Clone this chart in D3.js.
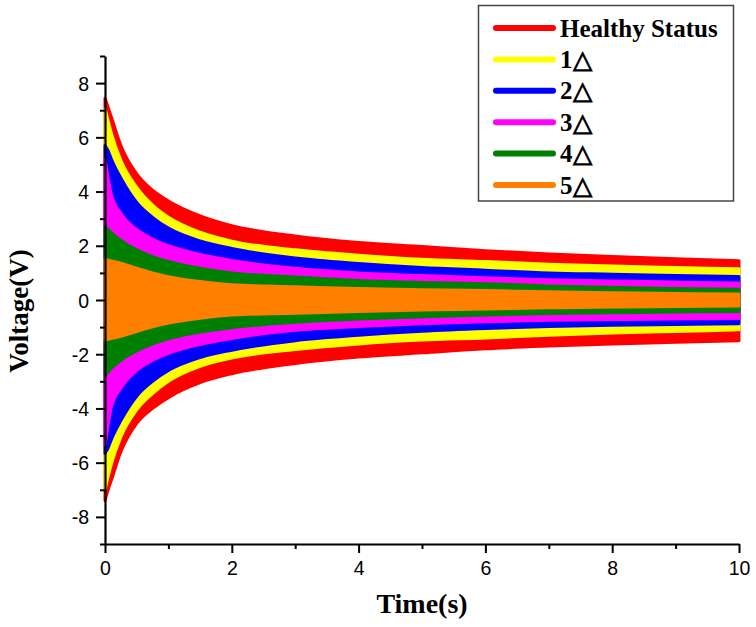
<!DOCTYPE html>
<html>
<head>
<meta charset="utf-8">
<script src="https://cdn.jsdelivr.net/npm/d3@7"></script>
<style>
  html, body { margin: 0; padding: 0; background: #fff; }
  svg { display: block; }
</style>
</head>
<body>
<svg id="chart" width="756" height="627"></svg>
<script>
// ---- data ----
const times = [0, 0.05, 0.1, 0.25, 0.5, 0.75, 1, 1.5, 2, 3, 4, 5, 6, 7, 8, 9, 10];

const healthyUpper = [7.45, 7.1, 6.75, 5.7, 4.65, 4.05, 3.65, 3.1, 2.74, 2.36, 2.12, 1.97, 1.82, 1.7, 1.6, 1.52, 1.45];
const healthyLower = [-7.4, -7.0, -6.65, -5.6, -4.55, -4.0, -3.6, -3.05, -2.72, -2.34, -2.1, -1.95, -1.8, -1.7, -1.62, -1.56, -1.5];

const delta1Upper = [7.05, 6.6, 6.15, 5.15, 4.15, 3.5, 3.05, 2.5, 2.17, 1.85, 1.65, 1.5, 1.42, 1.32, 1.25, 1.2, 1.15];
const delta1Lower = [-7.0, -6.5, -6.05, -5.05, -4.05, -3.45, -3.0, -2.45, -2.14, -1.83, -1.62, -1.48, -1.4, -1.3, -1.22, -1.16, -1.1];

const delta2Upper = [5.7, 5.5, 5.2, 4.5, 3.6, 3.05, 2.65, 2.18, 1.9, 1.55, 1.35, 1.2, 1.1, 1.0, 0.95, 0.9, 0.87];
const delta2Lower = [-5.65, -5.45, -5.15, -4.45, -3.55, -3.0, -2.6, -2.12, -1.85, -1.5, -1.3, -1.15, -1.05, -0.98, -0.93, -0.9, -0.88];

const delta3Upper = [5.2, 4.5, 3.9, 3.2, 2.6, 2.25, 2.0, 1.68, 1.46, 1.17, 1.0, 0.9, 0.82, 0.75, 0.7, 0.66, 0.63];
const delta3Lower = [-5.35, -4.6, -3.95, -3.25, -2.6, -2.22, -1.97, -1.64, -1.42, -1.12, -0.98, -0.88, -0.8, -0.75, -0.72, -0.7, -0.68];

const delta4Upper = [2.7, 2.6, 2.48, 2.2, 1.85, 1.6, 1.42, 1.17, 1.0, 0.85, 0.72, 0.65, 0.6, 0.52, 0.47, 0.42, 0.4];
const delta4Lower = [-2.77, -2.65, -2.52, -2.22, -1.88, -1.62, -1.43, -1.18, -1.02, -0.82, -0.7, -0.62, -0.55, -0.5, -0.47, -0.44, -0.42];

const delta5Upper = [1.5, 1.47, 1.44, 1.36, 1.17, 1.0, 0.86, 0.68, 0.56, 0.49, 0.42, 0.38, 0.35, 0.3, 0.27, 0.24, 0.22];
const delta5Lower = [-1.48, -1.45, -1.42, -1.34, -1.16, -0.99, -0.85, -0.67, -0.55, -0.49, -0.42, -0.37, -0.33, -0.29, -0.26, -0.24, -0.22];

const seriesNames = ["Healthy Status", "1△", "2△", "3△", "4△", "5△"];
const seriesColors = ["#ff0000", "#ffff00", "#0000ff", "#ff00ff", "#008000", "#ff8000"];
const seriesUpper = [healthyUpper, delta1Upper, delta2Upper, delta3Upper, delta4Upper, delta5Upper];
const seriesLower = [healthyLower, delta1Lower, delta2Lower, delta3Lower, delta4Lower, delta5Lower];

const xMajorTicks = [0, 2, 4, 6, 8, 10];
const xMinorTicks = [1, 3, 5, 7, 9];
const yMajorTicks = [-8, -6, -4, -2, 0, 2, 4, 6, 8];
const yMinorTicks = [-9, -7, -5, -3, -1, 1, 3, 5, 7, 9];

// ---- layout ----
const svg = d3.select("#chart");
const x = d3.scaleLinear().domain([0, 10]).range([105, 739]);
const y = d3.scaleLinear().domain([-9, 9]).range([544, 56]);

// ---- envelopes ----
const area = d3.area()
  .x(d => x(d.t))
  .y0(d => y(d.lo))
  .y1(d => y(d.hi))
  .curve(d3.curveMonotoneX);

const plot = svg.append("g");
seriesNames.forEach((name, i) => {
  const pts = times.map((t, k) => ({ t, hi: seriesUpper[i][k], lo: seriesLower[i][k] }));
  plot.append("path")
    .datum(pts)
    .attr("d", area)
    .attr("fill", seriesColors[i])
    .attr("stroke", seriesColors[i])
    .attr("stroke-width", 3)
    .attr("stroke-linejoin", "round");
});

// ---- axes ----
const tickFont = "'Liberation Sans', Arial, sans-serif";
const fmt = d => String(d);

const xAxisMajor = d3.axisBottom(x).tickValues(xMajorTicks).tickSize(9).tickPadding(8).tickFormat(fmt).tickSizeOuter(0);
const xAxisMinor = d3.axisBottom(x).tickValues(xMinorTicks).tickSize(5).tickFormat("");
const yAxisMajor = d3.axisLeft(y).tickValues(yMajorTicks).tickSize(9).tickPadding(7).tickFormat(fmt).tickSizeOuter(0);
const yAxisMinor = d3.axisLeft(y).tickValues(yMinorTicks).tickSize(5).tickFormat("");

function styleAxis(g) {
  g.selectAll("path.domain").attr("stroke", "#000").attr("stroke-width", 2.2);
  g.selectAll(".tick line").attr("stroke", "#000").attr("stroke-width", 2);
  g.selectAll(".tick text")
    .attr("fill", "#000")
    .style("font-family", tickFont)
    .style("font-size", "19.5px");
}

svg.append("g").attr("transform", `translate(0,${y(-9)})`).call(xAxisMinor).call(styleAxis)
  .selectAll("path.domain").remove();
svg.append("g").attr("transform", `translate(${x(0)},0)`).call(yAxisMinor).call(styleAxis)
  .selectAll("path.domain").remove();
const gx = svg.append("g").attr("transform", `translate(0,${y(-9)})`).call(xAxisMajor).call(styleAxis);
const gy = svg.append("g").attr("transform", `translate(${x(0)},0)`).call(yAxisMajor).call(styleAxis);
gx.selectAll(".tick text").attr("dy", "0.71em");
gy.selectAll(".tick text").attr("dy", "0.36em");

// axis titles
const titleFont = "'Liberation Serif', 'Times New Roman', serif";
svg.append("text")
  .attr("x", (x(0) + x(10)) / 2)
  .attr("y", 613)
  .attr("text-anchor", "middle")
  .style("font-family", titleFont)
  .style("font-weight", "bold")
  .style("font-size", "28px")
  .text("Time(s)");

svg.append("text")
  .attr("transform", "translate(28,311) rotate(-90)")
  .attr("text-anchor", "middle")
  .style("font-family", titleFont)
  .style("font-weight", "bold")
  .style("font-size", "27px")
  .text("Voltage(V)");

// ---- legend ----
const legend = svg.append("g");
legend.append("rect")
  .attr("x", 478.5).attr("y", 5.5)
  .attr("width", 255).attr("height", 195.5)
  .attr("fill", "#fff")
  .attr("stroke", "#444")
  .attr("stroke-width", 1.5);

const rowY = d3.scaleLinear().domain([0, 5]).range([28, 185]);
seriesNames.forEach((name, i) => {
  const cy = rowY(i);
  legend.append("line")
    .attr("x1", 496).attr("x2", 553)
    .attr("y1", cy).attr("y2", cy)
    .attr("stroke", seriesColors[i])
    .attr("stroke-width", 6)
    .attr("stroke-linecap", "round");
  legend.append("text")
    .attr("x", 560)
    .attr("y", cy + 8.5)
    .style("font-family", titleFont)
    .style("font-weight", "bold")
    .style("font-size", "25px")
    .attr("fill", "#000")
    .text(name);
});
</script>
</body>
</html>
